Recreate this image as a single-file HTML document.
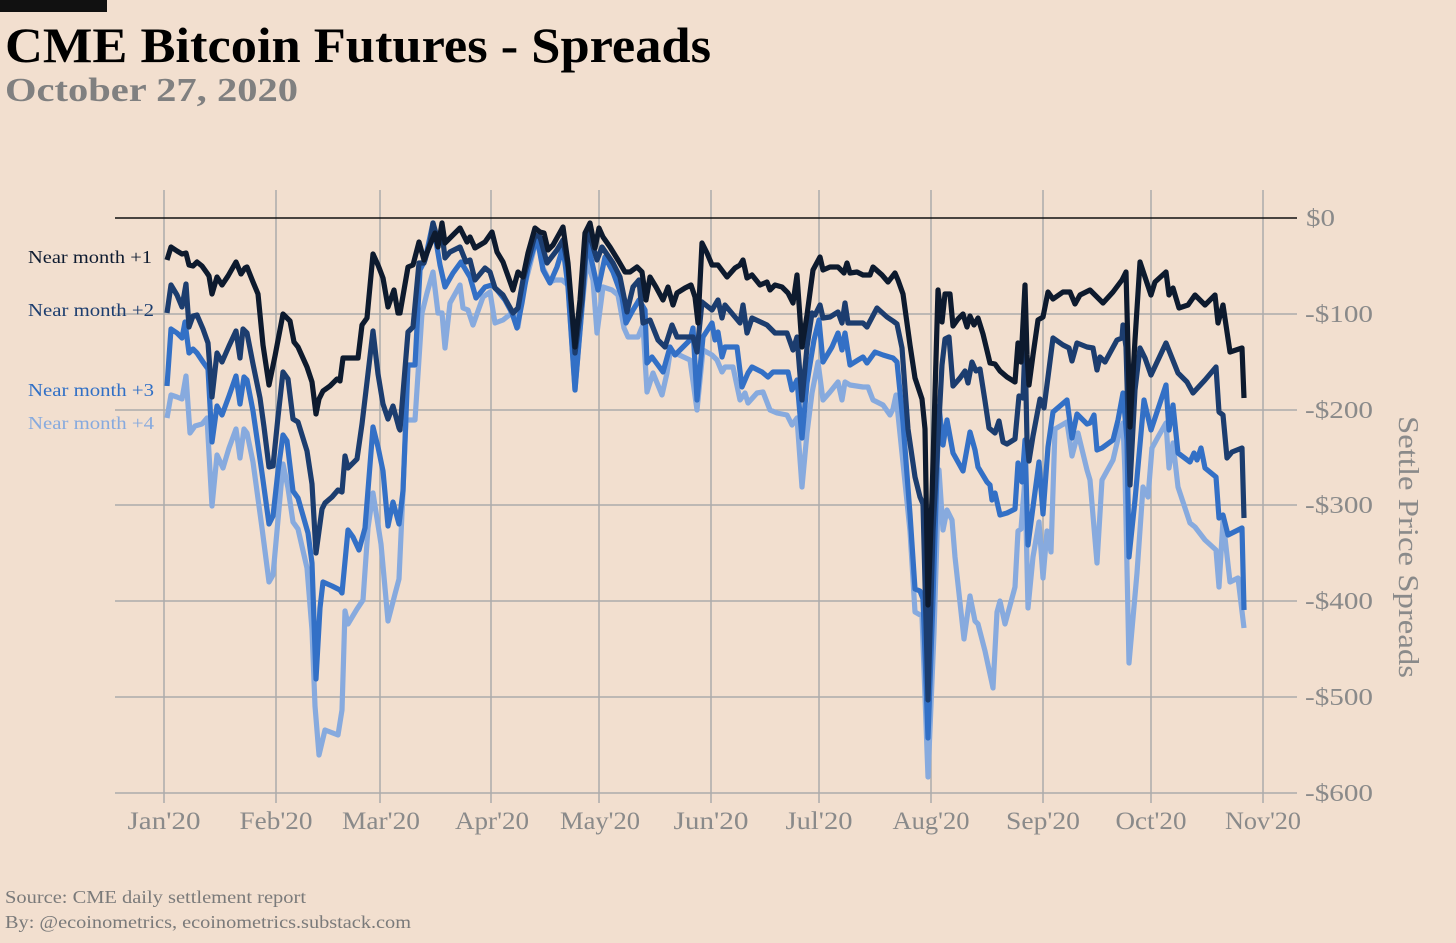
<!DOCTYPE html>
<html><head><meta charset="utf-8"><style>
html,body{margin:0;padding:0;background:#f2dfcf;}
svg{display:block;}
text{font-family:"Liberation Serif",serif;}
</style></head><body>
<svg width="1456" height="943" viewBox="0 0 1456 943" xmlns="http://www.w3.org/2000/svg">
<rect x="0" y="0" width="1456" height="943" fill="#f2dfcf"/>
<rect x="0" y="0" width="107" height="12" fill="#111"/>
<text x="5" y="62" font-size="50" font-weight="bold" fill="#000" textLength="706" lengthAdjust="spacingAndGlyphs">CME Bitcoin Futures - Spreads</text>
<text x="5" y="101" font-size="34" font-weight="bold" fill="#808080" textLength="293" lengthAdjust="spacingAndGlyphs">October 27, 2020</text>

<g stroke="#ababab" stroke-width="1.5">
<line x1="115" y1="314" x2="1297" y2="314"/>
<line x1="115" y1="410" x2="1297" y2="410"/>
<line x1="115" y1="505" x2="1297" y2="505"/>
<line x1="115" y1="601" x2="1297" y2="601"/>
<line x1="115" y1="697" x2="1297" y2="697"/>
<line x1="115" y1="793" x2="1297" y2="793"/>
<line x1="164" y1="190" x2="164" y2="803"/>
<line x1="276" y1="190" x2="276" y2="803"/>
<line x1="380" y1="190" x2="380" y2="803"/>
<line x1="491" y1="190" x2="491" y2="803"/>
<line x1="599" y1="190" x2="599" y2="803"/>
<line x1="711" y1="190" x2="711" y2="803"/>
<line x1="819" y1="190" x2="819" y2="803"/>
<line x1="931" y1="190" x2="931" y2="803"/>
<line x1="1043" y1="190" x2="1043" y2="803"/>
<line x1="1151" y1="190" x2="1151" y2="803"/>
<line x1="1263" y1="190" x2="1263" y2="803"/>
</g>
<line x1="115" y1="218" x2="1297" y2="218" stroke="#111" stroke-width="1.5"/>

<g font-size="24" fill="#8a8a8a" dominant-baseline="central">
<text x="1306" y="219" textLength="29" lengthAdjust="spacingAndGlyphs">$0</text>
<text x="1305" y="315" textLength="68" lengthAdjust="spacingAndGlyphs">-$100</text>
<text x="1305" y="411" textLength="68" lengthAdjust="spacingAndGlyphs">-$200</text>
<text x="1305" y="506" textLength="68" lengthAdjust="spacingAndGlyphs">-$300</text>
<text x="1305" y="602" textLength="68" lengthAdjust="spacingAndGlyphs">-$400</text>
<text x="1305" y="698" textLength="68" lengthAdjust="spacingAndGlyphs">-$500</text>
<text x="1305" y="794" textLength="68" lengthAdjust="spacingAndGlyphs">-$600</text>
</g>
<text transform="translate(1399,547) rotate(90)" text-anchor="middle" font-size="28" fill="#8a8a8a" textLength="262" lengthAdjust="spacingAndGlyphs">Settle Price Spreads</text>

<g font-size="25" fill="#8a8a8a" text-anchor="middle">
<text x="164" y="829" textLength="73" lengthAdjust="spacingAndGlyphs">Jan'20</text>
<text x="276" y="829" textLength="73" lengthAdjust="spacingAndGlyphs">Feb'20</text>
<text x="381" y="829" textLength="78" lengthAdjust="spacingAndGlyphs">Mar'20</text>
<text x="492" y="829" textLength="74" lengthAdjust="spacingAndGlyphs">Apr'20</text>
<text x="600" y="829" textLength="80" lengthAdjust="spacingAndGlyphs">May'20</text>
<text x="711" y="829" textLength="75" lengthAdjust="spacingAndGlyphs">Jun'20</text>
<text x="819" y="829" textLength="67" lengthAdjust="spacingAndGlyphs">Jul'20</text>
<text x="931" y="829" textLength="77" lengthAdjust="spacingAndGlyphs">Aug'20</text>
<text x="1043" y="829" textLength="74" lengthAdjust="spacingAndGlyphs">Sep'20</text>
<text x="1151" y="829" textLength="71" lengthAdjust="spacingAndGlyphs">Oct'20</text>
<text x="1263" y="829" textLength="76" lengthAdjust="spacingAndGlyphs">Nov'20</text>
</g>

<g font-size="18">
<text x="28" y="263" fill="#0e1b30" textLength="124" lengthAdjust="spacingAndGlyphs">Near month +1</text>
<text x="28" y="316" fill="#1d3e6f" textLength="126" lengthAdjust="spacingAndGlyphs">Near month +2</text>
<text x="28" y="396" fill="#3170c6" textLength="126" lengthAdjust="spacingAndGlyphs">Near month +3</text>
<text x="28" y="429" fill="#87aade" textLength="126" lengthAdjust="spacingAndGlyphs">Near month +4</text>
</g>

<g fill="none" stroke-width="5.2" stroke-linejoin="round" stroke-linecap="butt">
<polyline stroke="#87aade" points="167,418 171,395 177,397 182,399 186,376 190,433 195,426 202,424 207,418 212,506 217,455 223,468 229,448 236,429 240,458 244,429 247,433 253,462 262,528 269,582 273,575 278,520 283,464 288,488 293,522 298,529 307,568 312,630 315,706 319,755 325,730 338,735 342,710 345,611 348,624 357,609 363,600 368,528 373,493 381,544 388,621 395,594 399,579 403,491 406,420 415,420 422,313 427,293 433,272 438,313 442,313 445,348 450,303 460,285 463,308 468,310 473,325 483,297 490,292 495,323 503,320 513,312 518,327 523,292 530,265 537,237 543,268 550,282 555,280 562,280 568,285 575,390 582,307 587,260 593,280 597,333 603,287 612,290 618,295 624,328 628,337 638,337 643,325 647,392 653,373 662,395 667,373 670,353 675,353 690,360 697,410 703,350 712,355 717,360 722,372 725,367 733,367 740,400 745,393 748,403 757,393 763,392 770,410 777,413 787,415 792,425 797,418 802,487 807,433 812,393 818,362 823,400 830,392 838,382 842,400 845,382 850,385 863,387 868,387 873,400 883,405 890,415 893,409 896,395 903,463 910,531 915,612 922,616 928,777 934,633 939,470 943,530 947,510 952,520 955,557 964,639 970,596 975,621 978,624 985,651 993,688 997,612 1000,601 1005,624 1015,587 1018,531 1021,529 1025,478 1028,608 1033,557 1039,522 1043,578 1047,531 1051,552 1055,429 1067,422 1072,456 1078,433 1087,470 1090,480 1097,563 1102,480 1113,460 1120,430 1123,423 1125,473 1129,663 1137,573 1143,487 1148,497 1152,448 1158,437 1166,423 1169,468 1173,443 1178,487 1190,523 1195,527 1205,540 1216,550 1219,587 1223,520 1230,582 1238,578 1244,628"/>
<polyline stroke="#3370c6" points="167,386 171,329 177,333 182,338 185,322 189,353 193,349 197,353 203,362 208,369 212,442 217,406 222,415 229,396 236,376 240,404 244,377 247,380 253,411 262,473 269,524 273,516 278,471 283,435 287,441 293,491 298,498 308,533 312,563 316,679 320,608 323,582 332,586 340,590 342,593 348,530 353,537 359,550 365,528 373,427 378,447 383,471 388,526 393,502 399,524 403,491 408,365 415,365 420,270 425,260 433,223 440,265 445,287 453,273 461,262 470,277 476,298 485,287 492,285 497,290 505,300 512,313 517,328 522,303 528,267 537,237 543,270 550,283 557,267 563,247 568,287 575,390 582,307 587,240 593,267 598,290 605,257 613,272 622,297 626,323 633,310 639,300 645,310 647,363 652,357 663,372 670,347 675,355 690,340 693,328 697,400 703,337 712,323 715,340 718,332 722,357 725,347 737,347 742,387 748,373 752,367 762,372 768,377 773,372 788,372 792,390 797,380 802,438 807,383 814,340 819,320 823,362 832,347 838,333 842,350 845,333 850,365 858,360 863,357 867,363 875,352 883,355 893,358 897,362 903,422 910,514 915,589 920,591 923,599 928,738 933,599 939,406 943,445 947,420 953,453 963,471 970,432 975,450 978,467 987,482 990,485 992,500 995,493 1000,515 1007,513 1015,509 1018,463 1022,482 1025,440 1028,545 1033,507 1039,462 1043,514 1048,447 1053,412 1067,400 1072,438 1077,414 1087,424 1090,423 1094,415 1097,450 1102,448 1113,440 1118,420 1123,393 1127,440 1129,557 1135,500 1144,400 1151,430 1166,385 1169,430 1173,405 1178,453 1190,462 1194,453 1197,460 1201,448 1205,468 1216,477 1219,518 1223,515 1228,535 1242,528 1244,610"/>
<polyline stroke="#1c3d6f" points="167,313 171,285 177,295 182,307 186,284 189,327 193,316 197,315 203,329 208,343 212,397 217,353 222,362 229,346 236,331 240,358 243,329 247,333 253,364 260,398 264,427 269,467 273,466 278,417 283,372 288,379 293,419 298,422 307,451 312,484 316,553 322,509 325,503 332,497 338,490 342,492 345,456 348,468 357,459 362,424 367,382 373,331 378,374 383,404 388,419 393,406 399,428 400,430 408,332 413,327 419,263 424,263 430,243 433,223 437,237 442,233 445,258 450,252 460,247 466,262 470,260 475,280 485,268 490,272 495,288 503,295 513,313 518,308 523,280 535,235 540,237 547,263 557,250 563,240 568,267 575,353 582,300 587,230 592,243 597,260 602,247 613,263 620,277 627,312 633,287 639,280 643,323 650,320 658,340 665,347 672,325 677,337 693,337 697,352 702,302 712,310 718,300 722,318 725,305 740,323 743,305 747,333 752,318 767,325 775,333 787,333 793,350 797,337 802,400 807,347 812,313 815,315 820,305 823,318 830,317 838,312 842,323 845,303 848,323 863,323 867,327 877,308 887,317 893,321 897,324 902,348 908,429 915,477 920,497 923,504 928,700 933,531 942,365 945,339 949,337 953,386 960,378 965,371 968,383 972,362 976,371 980,369 985,401 989,428 995,433 999,421 1003,442 1007,444 1015,439 1019,396 1023,398 1025,345 1027,440 1029,461 1033,436 1040,399 1044,408 1048,377 1053,338 1063,345 1069,348 1072,361 1077,343 1087,347 1093,348 1097,370 1100,357 1105,362 1117,340 1122,338 1123,325 1126,347 1130,485 1135,390 1140,348 1145,358 1151,375 1166,343 1178,373 1187,382 1193,393 1205,380 1216,367 1219,412 1223,415 1227,458 1232,452 1242,448 1244,518"/>
<polyline stroke="#0d1a2e" points="167,260 171,247 177,251 182,254 186,253 189,265 193,266 197,262 202,266 207,273 209,276 212,294 217,277 222,285 228,276 236,262 241,274 245,268 247,267 253,282 258,294 263,345 269,385 275,356 283,314 290,321 294,342 298,347 307,367 312,382 316,414 319,399 323,391 330,386 337,379 340,381 343,358 358,358 362,325 367,318 373,254 378,265 383,278 388,307 394,290 398,313 400,313 408,267 413,265 419,242 424,260 432,240 435,233 438,247 442,223 445,243 450,238 460,228 467,242 470,237 475,248 485,242 492,232 497,252 503,262 513,290 518,272 523,277 528,253 535,228 540,232 544,233 548,250 553,245 563,227 568,263 575,347 580,300 585,233 590,223 595,248 599,228 603,237 610,247 618,260 625,272 630,272 637,267 642,272 646,300 650,277 656,287 663,300 668,287 673,305 677,293 685,288 691,285 695,297 698,323 702,243 707,253 712,265 718,265 727,277 735,268 740,265 743,260 747,278 752,275 760,285 767,282 770,290 775,285 782,287 788,293 793,303 797,275 802,347 807,315 813,270 820,257 823,270 830,267 838,267 844,273 847,263 850,273 857,272 863,275 870,275 873,267 882,275 888,282 895,273 898,280 903,294 910,345 915,378 922,399 925,429 928,605 932,497 938,290 942,322 945,294 950,294 953,326 958,319 963,314 967,327 970,316 974,325 978,318 983,334 990,363 995,364 1000,371 1007,377 1015,382 1018,343 1021,362 1025,285 1027,355 1029,385 1033,355 1038,320 1043,317 1048,292 1053,299 1063,292 1070,292 1075,304 1080,295 1090,290 1103,303 1113,292 1122,280 1126,272 1130,427 1135,340 1140,262 1147,283 1151,295 1155,282 1166,272 1169,295 1173,288 1179,308 1188,305 1195,295 1205,305 1215,295 1218,323 1223,305 1230,352 1242,348 1244,398"/>
</g>

<g font-size="18" fill="#7a7a7a">
<text x="5" y="903" textLength="301" lengthAdjust="spacingAndGlyphs">Source: CME daily settlement report</text>
<text x="5" y="928" textLength="406" lengthAdjust="spacingAndGlyphs">By: @ecoinometrics, ecoinometrics.substack.com</text>
</g>
</svg>
</body></html>
